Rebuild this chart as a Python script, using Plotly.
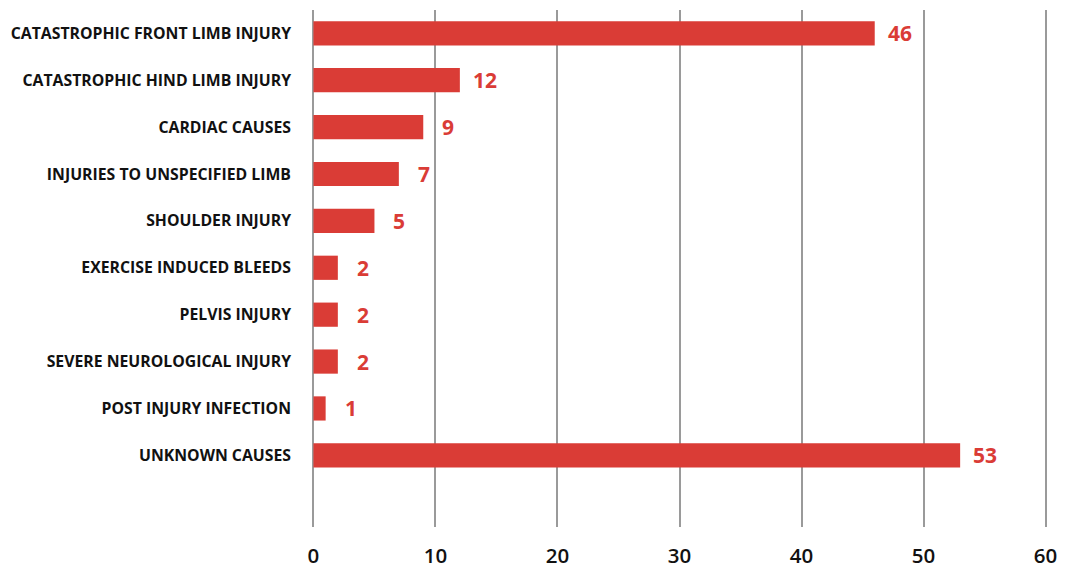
import plotly.graph_objects as go

categories = [
    "CATASTROPHIC FRONT LIMB INJURY",
    "CATASTROPHIC HIND LIMB INJURY",
    "CARDIAC CAUSES",
    "INJURIES TO UNSPECIFIED LIMB",
    "SHOULDER INJURY",
    "EXERCISE INDUCED BLEEDS",
    "PELVIS INJURY",
    "SEVERE NEUROLOGICAL INJURY",
    "POST INJURY INFECTION",
    "UNKNOWN CAUSES",
]
values = [46, 12, 9, 7, 5, 2, 2, 2, 1, 53]
x_ticks = [0, 10, 20, 30, 40, 50, 60]

RED = "#da3c36"
GRID = "#9a9a9a"

fig = go.Figure(
    go.Bar(
        x=values,
        y=categories,
        orientation="h",
        marker=dict(color=RED, line=dict(width=0)),
        width=0.516,
        hoverinfo="x+y",
    )
)

for c, v in zip(categories, values):
    fig.add_annotation(
        x=v, y=c, text=f"<b>{v}</b>", showarrow=False,
        xanchor="center", xshift=25, yshift=0,
        font=dict(family="Open Sans", size=21, color=RED),
    )

fig.update_layout(
    width=1073, height=570,
    margin=dict(l=310.9, r=25.3, t=9.5, b=43.3, autoexpand=False),
    paper_bgcolor="white", plot_bgcolor="white",
    showlegend=False,
    xaxis=dict(
        range=[-0.2, 60.2], tickvals=x_ticks, ticktext=[str(t) for t in x_ticks],
        showgrid=True, gridcolor=GRID, gridwidth=2,
        zeroline=False, showline=False, ticks="",
        tickfont=dict(family="Open Sans", size=20.5, color="#111111", weight=600),
        ticklabelstandoff=14, automargin=False,
    ),
    yaxis=dict(
        type="category", categoryorder="array", categoryarray=categories,
        range=[10.528, -0.497],
        showgrid=False, zeroline=False, showline=False, ticks="",
        tickfont=dict(family="Open Sans", size=15.8, color="#111111", weight="bold"),
        ticklabelstandoff=19, automargin=False,
    ),
)

fig.write_html(
    "out.html",
    config={"displayModeBar": False},
    post_script="document.body.style.margin='0';document.body.style.overflow='hidden';",
)
